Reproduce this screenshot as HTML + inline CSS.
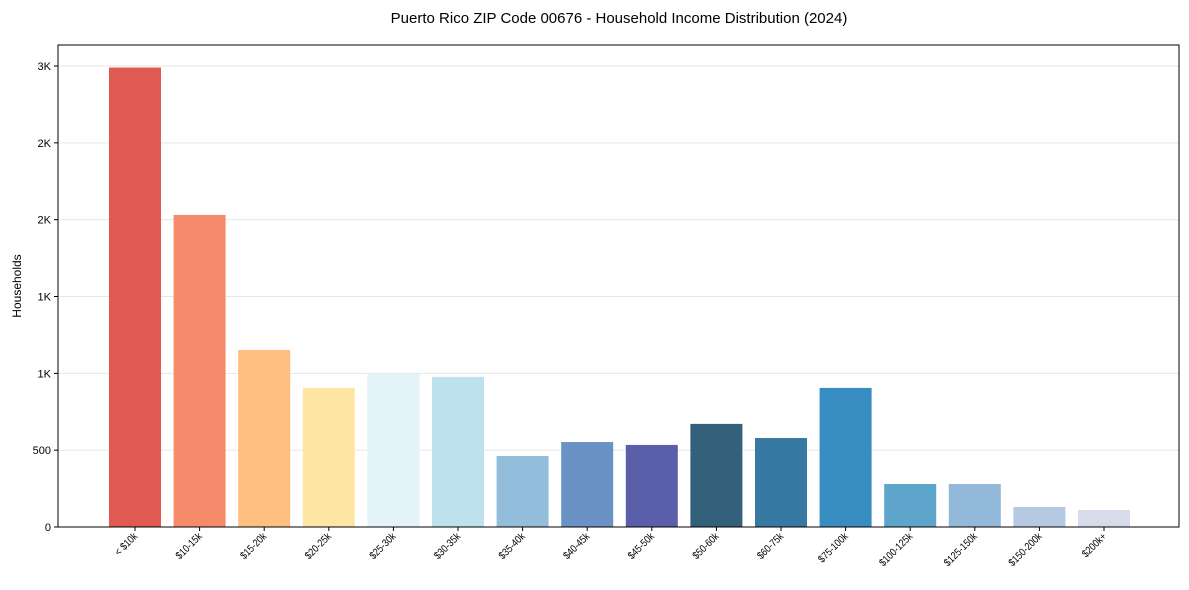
<!DOCTYPE html>
<html><head><meta charset="utf-8"><style>
body{margin:0;background:#fff;}
svg{display:block;font-family:"Liberation Sans",sans-serif;}
</style></head><body>
<svg id="chart" width="1189" height="590">
<text x="619" y="23" text-anchor="middle" font-size="15">Puerto Rico ZIP Code 00676 - Household Income Distribution (2024)</text>
<text transform="translate(21,286) rotate(-90)" text-anchor="middle" font-size="12">Households</text>
<g id="grid"></g><g id="bars"></g><g id="axes"></g>
</svg>
<script>
const categories=["< $10k","$10-15k","$15-20k","$20-25k","$25-30k","$30-35k","$35-40k","$40-45k","$45-50k","$50-60k","$60-75k","$75-100k","$100-125k","$125-150k","$150-200k","$200k+"];
const households=[2990,2031,1152,905,996,977,462,553,534,671,579,905,280,280,130,111];
const colors=["#e05a52","#f58b6b","#febf80","#fee5a4","#e3f3f8","#bde1ed","#92bedc","#6a92c4","#5b5ea9","#33607a","#3779a3","#378dc2","#5ea5cc","#92b9d9","#b6c9e2","#d8dbea"];
const yTicks=[0,500,1000,1500,2000,2500,3000];
const yTickLabels=["0","500","1K","1K","2K","2K","3K"];
const NS="http://www.w3.org/2000/svg";
const L=58,R=1179,T=45,B=527;
const y=v=>B-v*(461/3000);
const x=i=>135+i*64.6;
const bw=52;
function mk(tag,attrs,parent,text){const e=document.createElementNS(NS,tag);for(const k in attrs)e.setAttribute(k,attrs[k]);if(text!==undefined)e.textContent=text;parent.appendChild(e);return e;}
const grid=document.getElementById('grid'),bars=document.getElementById('bars'),axes=document.getElementById('axes');
yTicks.forEach((t,i)=>{
 const g=mk('line',{x1:L,x2:R,y1:y(t),y2:y(t),stroke:'#e6e6e6','stroke-width':1},grid);
 
 
 mk('line',{x1:L-4,x2:L,y1:y(t),y2:y(t),stroke:'#000'},axes);
 const lb=mk('text',{x:L-7,y:y(t)+4,'text-anchor':'end','font-size':11},axes,yTickLabels[i]);
 
 
});
categories.forEach((c,i)=>{
 const r=mk('rect',{x:x(i)-bw/2,y:y(households[i]),width:bw,height:B-y(households[i]),fill:colors[i]},bars);
 
 
 mk('line',{x1:x(i),x2:x(i),y1:B,y2:B+4,stroke:'#000'},axes);
 const t=mk('text',{transform:`translate(${x(i)+3},${B+10}) rotate(-45) scale(0.85,1)`,'text-anchor':'end','font-size':10.5},axes,c);
 
 
});
const fr=mk('rect',{x:L,y:T,width:R-L,height:B-T,fill:'none',stroke:'#000','stroke-width':1},axes);


</script>
</body></html>
